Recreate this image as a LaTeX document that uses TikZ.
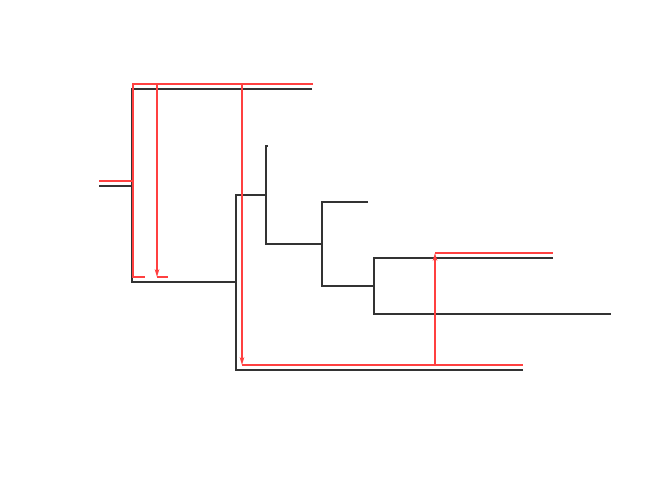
\documentclass[tikz,border=0pt]{standalone}
\usetikzlibrary{arrows.meta}
\begin{document}
\begin{tikzpicture}[x=0.75pt,y=-0.75pt,
  tree/.style={draw=black!80,line width=1pt},
  transfer/.style={draw=red!75!white,line width=1pt},
  tip/.style={-{Stealth[length=6pt,width=3.5pt]}}]
\useasboundingbox (0,0) rectangle (672,480);
% species tree
\draw[tree] (99,186) -- (132,186);
\draw[tree] (312,89) -- (132,89) -- (132,282) -- (236,282);
\draw[tree] (523,370) -- (236,370) -- (236,195) -- (266,195);
\draw[tree] (268,146) -- (266,146) -- (266,244) -- (322,244);
\draw[tree] (368,202) -- (322,202) -- (322,286) -- (374,286);
\draw[tree] (553,258) -- (374,258) -- (374,314) -- (611,314);
% gene tree / transfers
\draw[transfer] (99,181) -- (133,181);
\draw[transfer] (313,84) -- (133,84) -- (133,277) -- (145,277);
\draw[transfer] (157,277) -- (168,277);
\draw[transfer,tip] (157,84) -- (157,277);
\draw[transfer,tip] (242,84) -- (242,365);
\draw[transfer] (242,365) -- (523,365);
\draw[transfer,tip] (435,365) -- (435,253);
\draw[transfer] (435,253) -- (553,253);
\end{tikzpicture}
\end{document}
